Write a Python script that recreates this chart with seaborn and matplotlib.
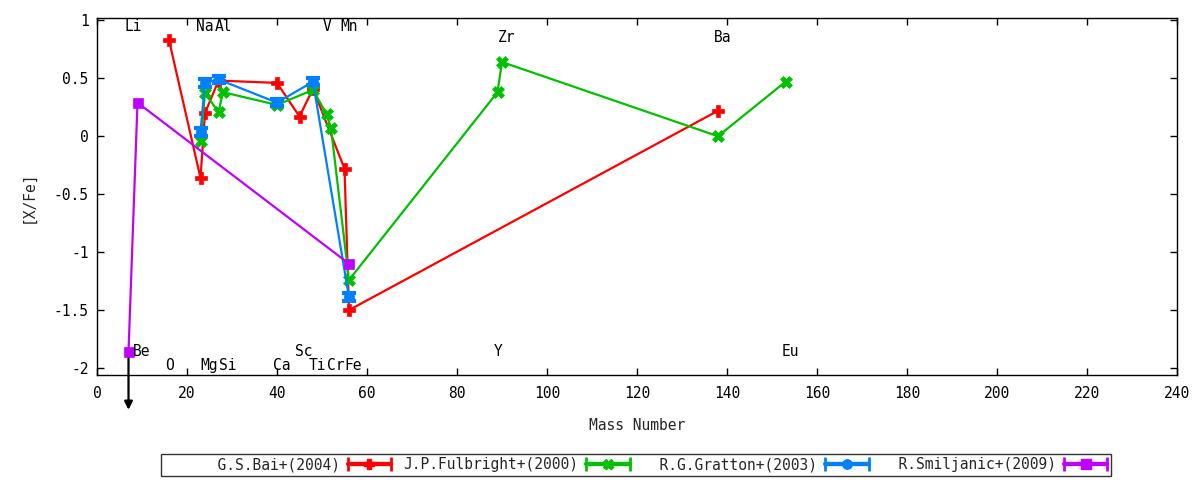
import numpy as np
import pandas as pd
import matplotlib
matplotlib.use('Agg')
import matplotlib.pyplot as plt
from matplotlib.legend_handler import HandlerErrorbar
from matplotlib.ticker import FuncFormatter
import seaborn as sns


# 1. Data
bai_mass = [16, 23, 24, 27, 40, 45, 48, 55, 56, 138]
bai_xfe = [0.83, -0.36, 0.20, 0.48, 0.46, 0.17, 0.41, -0.28, -1.50, 0.22]

fulbright_mass = [23, 24, 27, 28, 40, 48, 51, 52, 56, 89, 90, 138, 153]
fulbright_xfe = [-0.04, 0.37, 0.21, 0.38, 0.27, 0.40, 0.19, 0.07, -1.24, 0.38, 0.64, 0.00, 0.47]

gratton_mass = [23, 24, 27, 40, 48, 56]
gratton_xfe = [0.04, 0.46, 0.49, 0.29, 0.47, -1.39]
gratton_err = [0.035, 0.035, 0.03, 0.03, 0.03, 0.035]

smiljanic_mass = [7, 9, 56]
smiljanic_xfe = [-1.86, 0.29, -1.10]

# upper limit arrow (Li)
limit_mass = 7
limit_from = -1.86
limit_to = -2.36

# element labels: name, mass number, height
elem_names = ['Li', 'Na', 'Al', 'V', 'Mn', 'Zr', 'Ba',
              'Be', 'Sc', 'Y', 'Eu',
              'O', 'Mg', 'Si', 'Ca', 'Ti', 'Cr', 'Fe']
elem_mass = [7, 23, 27, 51, 55, 90, 138,
             9, 45, 89, 153,
             16, 24, 28, 40, 48, 52, 56]
elem_y = [0.944] * 5 + [0.85] * 2 + [-1.853] * 4 + [-1.974] * 7

series = [
    ('G.S.Bai+(2004)', bai_mass, bai_xfe, '#ff0000', 'P'),
    ('J.P.Fulbright+(2000)', fulbright_mass, fulbright_xfe, '#00c000', 'X'),
    ('R.G.Gratton+(2003)', gratton_mass, gratton_xfe, '#0080ff', 'o'),
    ('R.Smiljanic+(2009)', smiljanic_mass, smiljanic_xfe, '#c000ff', 's'),
]

# 2. Style
sns.set_style('ticks')
plt.rcParams['font.family'] = ['DejaVu Sans Mono']
plt.rcParams['axes.unicode_minus'] = False
plt.rcParams['xtick.direction'] = 'in'
plt.rcParams['ytick.direction'] = 'in'

fig = plt.figure(figsize=(12, 4.8), dpi=100)
ax = fig.add_axes([97 / 1200, 1 - 375 / 480, 1080 / 1200, 357 / 480])

# 3. Draw the series
marker_sizes = {'P': 8, 'X': 8, 'o': 7.5, 's': 7.5}
for label, mass, xfe, color, marker in series:
    df = pd.DataFrame({'mass': mass, 'xfe': xfe})
    sns.lineplot(data=df, x='mass', y='xfe', ax=ax, color=color, marker=marker,
                 markersize=marker_sizes[marker], markeredgecolor=color,
                 markeredgewidth=0.5, linewidth=1.6, sort=False,
                 estimator=None, legend=False, zorder=3)

ax.errorbar(gratton_mass, gratton_xfe, yerr=gratton_err, fmt='none',
            ecolor='#0080ff', elinewidth=4, capsize=5, capthick=3, zorder=3)

# upper limit arrow
ax.annotate('', xy=(limit_mass, limit_to), xytext=(limit_mass, limit_from),
            arrowprops=dict(arrowstyle='-|>', color='black', lw=1.6,
                            mutation_scale=12, shrinkA=0, shrinkB=0),
            annotation_clip=False, zorder=2)

# element labels
for name, m, yy in zip(elem_names, elem_mass, elem_y):
    ax.annotate(name, xy=(m, yy), xytext=(-3, 0), textcoords='offset points',
                ha='left', va='center', fontsize=10.5, color='black')

# 4. Axes
ax.set_xlim(0, 240)
ax.set_ylim(-2.06, 1.02)
ax.set_xticks(np.arange(0, 241, 20))
ax.set_yticks(np.arange(-2, 1.01, 0.5))
ax.yaxis.set_major_formatter(FuncFormatter(lambda v, p: '{:g}'.format(round(v, 2))))
ax.tick_params(top=True, right=True, length=5, width=1, labelsize=10.5,
               colors='black')
ax.tick_params(axis='x', pad=8)
ax.tick_params(axis='y', pad=6)
for sp in ax.spines.values():
    sp.set_color('black')
    sp.set_linewidth(1)
ax.set_xlabel('Mass Number', fontsize=10.5, labelpad=12)
ax.set_ylabel('[X/Fe]', fontsize=10.5, labelpad=13)

# 5. Legend with error bar samples
proxies = []
for label, mass, xfe, color, marker in series:
    h = ax.errorbar([np.nan], [np.nan], xerr=[1], color=color, marker=marker,
                    markersize=marker_sizes[marker] * 0.9, markeredgecolor=color,
                    linewidth=3, elinewidth=3, capsize=5, capthick=2)
    proxies.append(h)
labels = [s[0].rjust(20) for s in series]
leg = fig.legend(proxies, labels, loc='center', bbox_to_anchor=(636 / 1200, 1 - 465 / 480),
                 ncol=4, markerfirst=False, frameon=True, fancybox=False,
                 fontsize=10.5, handlelength=3.0, handletextpad=0.55,
                 columnspacing=0.82, borderpad=0.25, numpoints=1,
                 handler_map={type(proxies[0]): HandlerErrorbar(xerr_size=1.5, numpoints=1)})
leg.get_frame().set_edgecolor('black')
leg.get_frame().set_linewidth(1)

fig.savefig('out.png', dpi=100)
